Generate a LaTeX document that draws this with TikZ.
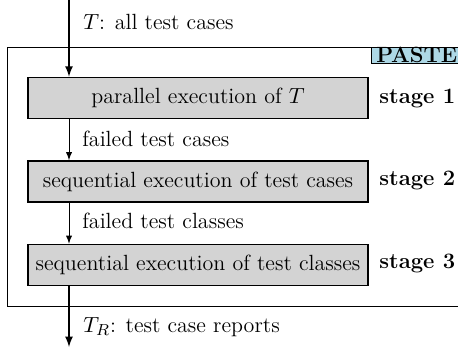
\documentclass[tikz,border=0pt]{standalone}
\usepackage{amsmath, amssymb}
\usepackage{tikz}
\definecolor{pasteblue}{RGB}{173,216,230}
\definecolor{stagegray}{RGB}{211,211,211}

\begin{document}
\begin{tikzpicture}[x=1pt,y=1pt, inner sep=1mm, >=latex, font=\fontsize{11}{13.6}\selectfont,
  stagebox/.style={draw, thick, fill=stagegray, minimum width=170pt, minimum height=20.5pt, inner sep=0pt},
  stagetag/.style={anchor=west, font=\fontsize{11}{13.6}\selectfont\bfseries, inner sep=0pt},
  flowtag/.style={anchor=west, inner sep=0pt}]
\clip (0,0) rectangle (229,-173.5);
\node (frame) at (117.25,-88.25) [draw, minimum width=227.5pt, minimum height=129.5pt, inner sep=0pt] {};
\node (paste) at (frame.north east) [anchor=north east, draw, fill=pasteblue, font=\fontsize{11}{13.6}\selectfont\bfseries, inner xsep=2.5pt, inner ysep=0.3pt] {PASTE};
\node (s1) at (99,-49) [stagebox] {parallel execution of $T$};
\node (s2) at (99,-90.75) [stagebox] {sequential execution of test cases};
\node (s3) at (99,-132.5) [stagebox] {sequential execution of test classes};
\node (t1) at (189.5,-49) [stagetag] {stage 1};
\node (t2) at (189.5,-90.25) [stagetag] {stage 2};
\node (t3) at (189.5,-131.75) [stagetag] {stage 3};
\coordinate (in) at (34.5,0);
\coordinate (out) at (34.5,-173.5);
\node (all) at (41.5,-11) [flowtag] {$T$: all test cases};
\node (fc) at (41,-69.5) [flowtag] {failed test cases};
\node (fk) at (41,-110.5) [flowtag] {failed test classes};
\node (rep) at (41.5,-163.5) [flowtag] {$T_R$: test case reports};
\draw[->, thick] (in) -- (in |- s1.north);
\draw[->] (in |- s1.south) -- (in |- s2.north);
\draw[->] (in |- s2.south) -- (in |- s3.north);
\draw[->, thick] (in |- s3.south) -- (out);
\end{tikzpicture}
\end{document}
